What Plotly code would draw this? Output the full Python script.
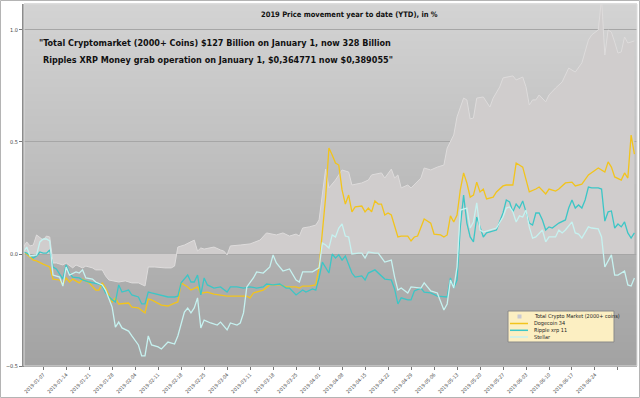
import pandas as pd
import plotly.graph_objects as go

START = pd.Timestamp("2019-01-01")

# ---------------- data (day offset from 2019-01-01, YTD change) ----------------
market_day = [0, 1, 2, 3, 4, 6, 7, 8, 9, 10, 12, 13, 15, 16, 18, 19, 21, 22, 24, 25, 26, 29, 31, 33, 35, 37,
              38, 40, 43, 45, 46, 47, 49, 51, 52, 53, 54, 55, 57, 58, 60, 61, 62, 63, 66, 69, 72, 74, 77, 79,
              81, 83, 84, 85, 87, 89, 90, 92, 93, 95, 97, 99, 100, 103, 105, 106, 109, 110, 112, 113, 114,
              115, 117, 118, 121, 122, 124, 126, 128, 129, 131, 132, 134, 135, 136, 137, 138, 140, 142, 143,
              145, 146, 149, 150, 152, 153, 154, 155, 156, 157, 159, 160, 162, 164, 166, 168, 170, 172, 173,
              175, 176, 177, 178, 179, 180, 181, 182, 183, 184, 186]
market_val = [0.031, 0.054, 0.036, 0.04, 0.085, 0.062, 0.08, 0.076, -0.04, -0.04, -0.049, -0.04, -0.062,
              -0.049, -0.062, -0.054, -0.062, -0.071, -0.071, -0.098, -0.116, -0.125, -0.12, -0.129, -0.129,
              -0.143, -0.058, -0.058, -0.062, -0.062, -0.054, 0.031, 0.04, 0.054, 0.062, 0.013, 0.027, 0.022,
              0.027, 0.031, 0.018, 0.013, -0.004, 0.036, 0.04, 0.045, 0.062, 0.094, 0.085, 0.094, 0.08, 0.089,
              0.08, 0.116, 0.121, 0.129, 0.152, 0.379, 0.295, 0.33, 0.375, 0.366, 0.308, 0.317, 0.33, 0.353,
              0.362, 0.339, 0.379, 0.339, 0.353, 0.295, 0.308, 0.295, 0.339, 0.384, 0.375, 0.388, 0.397, 0.473,
              0.531, 0.612, 0.696, 0.688, 0.603, 0.607, 0.696, 0.701, 0.656, 0.696, 0.746, 0.786, 0.795, 0.777,
              0.79, 0.746, 0.665, 0.688, 0.688, 0.71, 0.679, 0.71, 0.741, 0.768, 0.83, 0.812, 0.853, 0.955,
              0.978, 1.0, 1.14, 0.888, 1.0, 0.99, 0.946, 0.897, 0.902, 0.969, 0.942, 0.951]

doge_day = [0, 1, 3, 4, 6, 8, 9, 11, 12, 13, 14, 15, 17, 18, 20, 22, 23, 24, 25, 27, 28, 29, 32, 33, 35, 36,
            37, 38, 39, 42, 44, 46, 47, 48, 50, 51, 53, 54, 56, 58, 60, 62, 66, 68, 69, 70, 73, 75, 78, 80, 83,
            84, 85, 87, 89, 90, 92, 93, 94, 95, 96, 97, 98, 99, 100, 101, 103, 104, 105, 106, 107, 108, 109,
            110, 111, 112, 114, 115, 117, 118, 119, 120, 122, 124, 125, 127, 128, 129, 130, 131, 132, 133, 134,
            135, 136, 137, 138, 139, 140, 141, 143, 144, 146, 147, 149, 150, 152, 154, 156, 157, 159, 160, 162,
            163, 165, 167, 168, 170, 172, 174, 175, 177, 178, 179, 180, 182, 183, 184, 185, 186]
doge_val = [0.009, 0.0, -0.027, -0.031, -0.045, -0.058, -0.112, -0.116, -0.138, -0.107, -0.125, -0.112, -0.129,
            -0.112, -0.129, -0.161, -0.161, -0.129, -0.152, -0.214, -0.196, -0.223, -0.219, -0.237, -0.241,
            -0.254, -0.263, -0.201, -0.205, -0.228, -0.232, -0.219, -0.214, -0.129, -0.147, -0.161, -0.147,
            -0.175, -0.17, -0.179, -0.183, -0.188, -0.188, -0.188, -0.196, -0.174, -0.161, -0.138, -0.138,
            -0.147, -0.147, -0.152, -0.143, -0.143, -0.138, -0.058, 0.254, 0.473, 0.442, 0.406, 0.397, 0.286,
            0.223, 0.263, 0.188, 0.21, 0.214, 0.188, 0.205, 0.188, 0.237, 0.223, 0.223, 0.174, 0.183, 0.174,
            0.076, 0.08, 0.08, 0.058, 0.076, 0.08, 0.156, 0.138, 0.089, 0.085, 0.076, 0.085, 0.17, 0.143, 0.174,
            0.286, 0.362, 0.317, 0.254, 0.263, 0.321, 0.277, 0.29, 0.246, 0.254, 0.277, 0.304, 0.308, 0.308,
            0.406, 0.388, 0.277, 0.29, 0.299, 0.268, 0.29, 0.281, 0.29, 0.317, 0.321, 0.304, 0.312, 0.353,
            0.375, 0.384, 0.366, 0.411, 0.388, 0.344, 0.33, 0.362, 0.339, 0.531, 0.446]

xrp_day = [0, 1, 3, 4, 5, 6, 7, 8, 9, 10, 12, 13, 14, 15, 17, 18, 20, 23, 24, 25, 27, 28, 29, 30, 32, 33, 35,
           36, 37, 38, 39, 42, 44, 46, 47, 48, 50, 51, 52, 53, 54, 55, 56, 58, 60, 62, 63, 65, 67, 69, 71, 73,
           74, 76, 78, 80, 81, 83, 85, 86, 88, 89, 90, 91, 93, 94, 95, 96, 97, 98, 100, 101, 103, 104, 105,
           107, 108, 110, 112, 113, 114, 115, 117, 118, 119, 121, 122, 124, 126, 128, 129, 130, 131, 132, 133,
           134, 135, 136, 137, 138, 139, 140, 141, 144, 146, 147, 148, 149, 150, 151, 152, 153, 154, 155, 156,
           157, 158, 159, 160, 161, 162, 163, 165, 166, 167, 168, 169, 170, 171, 172, 173, 175, 176, 177, 178,
           179, 180, 181, 182, 183, 184, 185, 186]
xrp_val = [0.009, 0.004, -0.018, -0.009, 0.009, 0.004, 0.004, 0.018, -0.058, -0.067, -0.112, -0.049, -0.085,
           -0.103, -0.107, -0.116, -0.125, -0.134, -0.143, -0.174, -0.205, -0.214, -0.138, -0.17, -0.161,
           -0.183, -0.192, -0.223, -0.223, -0.17, -0.174, -0.183, -0.192, -0.192, -0.188, -0.129, -0.094,
           -0.125, -0.125, -0.094, -0.183, -0.107, -0.138, -0.152, -0.147, -0.17, -0.147, -0.147, -0.152,
           -0.147, -0.152, -0.147, -0.134, -0.138, -0.134, -0.152, -0.152, -0.183, -0.161, -0.17, -0.156,
           -0.161, -0.107, -0.036, -0.085, 0.0, -0.018, -0.004, -0.027, -0.009, -0.085, -0.103, -0.098,
           -0.116, -0.085, -0.071, -0.085, -0.112, -0.116, -0.156, -0.223, -0.196, -0.205, -0.205, -0.165,
           -0.152, -0.17, -0.174, -0.188, -0.192, -0.192, -0.107, -0.152, -0.116, 0.121, 0.263, 0.138, 0.076,
           0.054, 0.165, 0.121, 0.076, 0.094, 0.107, 0.183, 0.241, 0.232, 0.188, 0.223, 0.205, 0.237, 0.188,
           0.138, 0.129, 0.183, 0.183, 0.152, 0.107, 0.121, 0.116, 0.129, 0.138, 0.152, 0.205, 0.241, 0.205,
           0.219, 0.205, 0.241, 0.299, 0.295, 0.295, 0.29, 0.147, 0.188, 0.192, 0.116, 0.134, 0.121, 0.143,
           0.094, 0.071, 0.094]

xlm_day = [0, 1, 2, 4, 5, 6, 7, 8, 9, 11, 12, 13, 14, 16, 17, 18, 19, 21, 22, 24, 25, 27, 28, 29, 30, 32, 33,
           35, 36, 37, 38, 39, 41, 42, 44, 46, 47, 49, 50, 51, 52, 53, 54, 55, 57, 59, 60, 62, 63, 65, 66, 67,
           68, 70, 71, 73, 75, 76, 77, 79, 81, 83, 84, 85, 88, 90, 91, 92, 93, 94, 95, 96, 97, 98, 99, 100,
           102, 103, 104, 105, 107, 108, 110, 112, 113, 114, 115, 117, 118, 120, 121, 122, 124, 126, 127, 128,
           129, 130, 131, 132, 133, 135, 136, 137, 138, 139, 140, 142, 144, 146, 147, 148, 149, 150, 151, 152,
           153, 154, 155, 156, 158, 159, 160, 162, 163, 164, 165, 167, 168, 169, 170, 172, 173, 175, 176, 177,
           179, 180, 181, 183, 184, 185, 186]
xlm_val = [0.009, 0.031, -0.009, -0.004, 0.054, 0.067, 0.067, 0.058, -0.094, -0.103, -0.143, -0.058, -0.094,
           -0.08, -0.085, -0.071, -0.107, -0.112, -0.125, -0.138, -0.161, -0.237, -0.326, -0.304, -0.33,
           -0.344, -0.366, -0.406, -0.455, -0.455, -0.366, -0.406, -0.415, -0.424, -0.393, -0.402, -0.366,
           -0.259, -0.241, -0.263, -0.241, -0.196, -0.33, -0.295, -0.308, -0.317, -0.304, -0.339, -0.308,
           -0.317, -0.308, -0.263, -0.147, -0.107, -0.08, -0.085, -0.058, -0.004, -0.04, -0.076, -0.067,
           -0.116, -0.125, -0.08, -0.08, -0.062, 0.049, 0.04, 0.027, 0.085, 0.076, 0.116, 0.134, 0.08, 0.076,
           0.0, 0.004, 0.004, -0.018, 0.009, 0.004, 0.004, -0.036, -0.027, -0.103, -0.161, -0.152, -0.174,
           -0.147, -0.152, -0.152, -0.129, -0.165, -0.174, -0.214, -0.25, -0.223, -0.116, -0.152, -0.058,
           0.196, 0.205, 0.116, 0.143, 0.228, 0.107, 0.098, 0.107, 0.116, 0.165, 0.205, 0.21, 0.188, 0.143,
           0.17, 0.165, 0.196, 0.121, 0.071, 0.076, 0.107, 0.054, 0.076, 0.076, 0.107, 0.094, 0.107, 0.143,
           0.094, 0.089, 0.071, 0.121, 0.116, 0.112, 0.076, -0.058, -0.004, -0.094, -0.094, -0.076, -0.138,
           -0.143, -0.107]

tick_dates = ["2019-01-07", "2019-01-14", "2019-01-21", "2019-01-28", "2019-02-04", "2019-02-11",
              "2019-02-18", "2019-02-25", "2019-03-04", "2019-03-11", "2019-03-18", "2019-03-25",
              "2019-04-01", "2019-04-08", "2019-04-15", "2019-04-22", "2019-04-29", "2019-05-06",
              "2019-05-13", "2019-05-20", "2019-05-27", "2019-06-03", "2019-06-10", "2019-06-17",
              "2019-06-24", "2019-07-01"]
tick_text = tick_dates[:-1] + [""]

names = ["Total Crypto Market (2000+ coins)", "Dogecoin 34", "Ripple xrp 11", "Stellar"]
colors = ["#dedcdc", "#f2c41c", "#3cc6c6", "#c6f2f0"]

TITLE = "2019 Price movement year to date (YTD), in %"
NOTE1 = "\"Total Cryptomarket (2000+ Coins) $127 Billion on January 1, now 328 Billion"
NOTE2 = "Ripples XRP Money grab operation on January 1, $0,364771 now $0,389055\""

COND = "DejaVu Sans Condensed, DejaVu Sans"


def to_dates(days):
    return START + pd.to_timedelta(days, unit="D")


fig = go.Figure()
fig.add_trace(go.Scatter(x=to_dates(market_day), y=market_val, name=names[0], mode="lines",
                         fill="tozeroy", fillcolor="#d0cdcd",
                         line=dict(color=colors[0], width=1)))
fig.add_trace(go.Scatter(x=to_dates(doge_day), y=doge_val, name=names[1], mode="lines",
                         line=dict(color=colors[1], width=1.3)))
fig.add_trace(go.Scatter(x=to_dates(xrp_day), y=xrp_val, name=names[2], mode="lines",
                         line=dict(color=colors[2], width=1.3)))
fig.add_trace(go.Scatter(x=to_dates(xlm_day), y=xlm_val, name=names[3], mode="lines",
                         line=dict(color=colors[3], width=1.3)))

W, H = 640, 398
L, R, T, B = 24, 3, 4, 32
pw, ph = W - L - R, H - T - B


def px(xpix):
    return (xpix - L) / pw


def py(ypix):
    return (H - B - ypix) / ph


# vertical grey gradient for the plot background
shapes = []
n = 48
top = (212, 212, 212)
bot = (162, 162, 162)
for i in range(n):
    t = (i + 0.5) / n
    c = tuple(int(round(top[k] + (bot[k] - top[k]) * t)) for k in range(3))
    shapes.append(dict(type="rect", xref="paper", yref="paper", x0=0, x1=1,
                       y0=1 - (i + 1) / n, y1=1 - i / n + 0.002, line=dict(width=0),
                       fillcolor="rgb(%d,%d,%d)" % c, layer="below"))
# outer frame
shapes.append(dict(type="rect", xref="paper", yref="paper",
                   x0=px(0.5), x1=px(W - 0.5), y0=py(H - 0.5), y1=py(0.5),
                   line=dict(color="#b4b4b4", width=1), layer="above"))
# top/right light border of plot
shapes.append(dict(type="rect", xref="paper", yref="paper", x0=0, x1=1, y0=0, y1=1,
                   line=dict(color="#dcdcdc", width=1), layer="above"))

# hand-drawn compact legend
lx0, lx1, ly0, ly1 = 508, 614, 311, 342
shapes.append(dict(type="rect", xref="paper", yref="paper", x0=px(lx0), x1=px(lx1), y0=py(ly1), y1=py(ly0),
                   fillcolor="#fcefc2", line=dict(color="#8a8a8a", width=1), layer="above"))
rows = [316.5, 323.5, 330.3, 337]
annotations = []
for i, (nm, col) in enumerate(zip(names, colors)):
    yy = rows[i]
    if i == 0:
        shapes.append(dict(type="rect", xref="paper", yref="paper", x0=px(517.5), x1=px(521.5),
                           y0=py(yy + 2), y1=py(yy - 2), fillcolor="#c9c9d2",
                           line=dict(width=0), layer="above"))
    else:
        shapes.append(dict(type="line", xref="paper", yref="paper", x0=px(510), x1=px(528),
                           y0=py(yy), y1=py(yy), line=dict(color=col, width=1.5), layer="above"))
    annotations.append(dict(text=nm, xref="paper", yref="paper", x=px(531.5), y=py(yy),
                            xanchor="left", yanchor="middle", showarrow=False,
                            font=dict(family=COND, size=5.5, color="#222")))

annotations += [
    dict(text="<b>" + TITLE + "</b>", xref="paper", yref="paper",
         x=px(350), y=py(14), xanchor="center", yanchor="middle",
         showarrow=False, font=dict(family=COND, size=7.5, color="#111")),
    dict(text="<b>" + NOTE1 + "</b>", xref="paper", yref="paper", x=px(37), y=py(43), xanchor="left",
         yanchor="middle", showarrow=False, font=dict(family=COND, size=9, color="#111")),
    dict(text="<b>" + NOTE2 + "</b>", xref="paper", yref="paper", x=px(41), y=py(60), xanchor="left",
         yanchor="middle", showarrow=False, font=dict(family=COND, size=9, color="#111")),
]

fig.update_layout(
    width=W, height=H,
    margin=dict(l=L, r=R, t=T, b=B, pad=0, autoexpand=False),
    paper_bgcolor="white",
    plot_bgcolor="#bdbdbd",
    shapes=shapes,
    showlegend=False,
    font=dict(family="DejaVu Sans", size=7, color="#444"),
    annotations=annotations,
)

fig.update_xaxes(range=["2019-01-01 04:00", "2019-07-06 19:00"], tickvals=tick_dates, ticktext=tick_text,
                 tickangle=-45, tickfont=dict(family=COND, size=5, color="#444"), ticks="outside", ticklen=3,
                 tickcolor="#777", showgrid=False, showline=True, linecolor="#8c8c8c", linewidth=1,
                 zeroline=False, automargin=False)
fig.update_yaxes(range=[-0.5, 1.116], tickvals=[-0.5, 0.0, 0.5, 1.0], ticktext=["\u22120.5", "0.0", "0.5", "1.0"],
                 tickfont=dict(family=COND, size=5.5, color="#444"), ticks="outside", ticklen=3, tickcolor="#777",
                 showgrid=True, gridcolor="#a6a6a6", gridwidth=1, showline=True, linecolor="#8c8c8c",
                 linewidth=2, zeroline=False, automargin=False)

fig.write_html("out.html", config={"displayModeBar": False},
               post_script="document.body.style.margin='0';document.body.style.overflow='hidden';")
